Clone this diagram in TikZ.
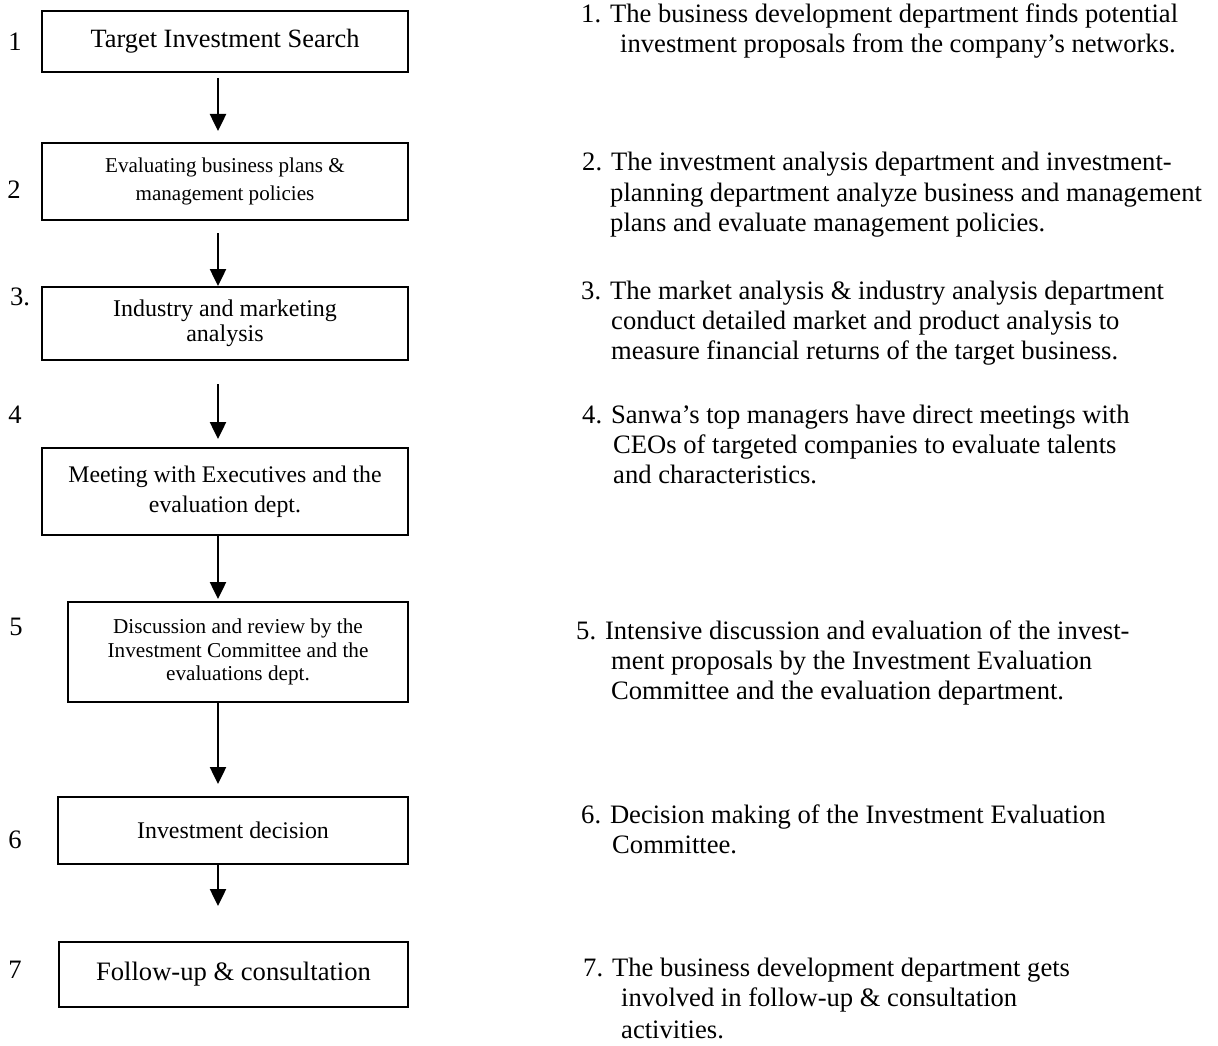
\documentclass[tikz,border=0pt]{standalone}
\usepackage{fontspec}
\setmainfont{Liberation Serif}
\usetikzlibrary{arrows.meta,calc}

\begin{document}
\begin{tikzpicture}[x=1pt,y=1pt,
  stepbox/.style={draw=black, line width=2pt, inner sep=0pt, align=center},
  arr/.style={line width=2.5pt, -{Triangle[width=16pt,length=17pt]}},
  num/.style={inner sep=0pt, font=\fontsize{26.6}{30}\selectfont},
  note/.style={anchor=west, inner sep=0pt, text height=18pt, text depth=6pt,
               font=\fontsize{26.6}{30}\selectfont}
]
\useasboundingbox (0,0) rectangle (1218,-1046);

% ---- process boxes (left column) ----
\node[stepbox, minimum width=366pt, minimum height=61pt,
      font=\fontsize{26.4}{30}\selectfont] (b1) at (225,-41.5) {Target Investment Search};
\node[stepbox, minimum width=366pt, minimum height=77pt,
      font=\fontsize{21.1}{28}\selectfont] (b2) at (225,-181.5)
      {Evaluating business plans \&\\management policies};
\node[stepbox, minimum width=366pt, minimum height=73pt,
      font=\fontsize{24}{25.5}\selectfont] (b3) at (225,-323.5)
      {Industry and marketing\\analysis};
\node[stepbox, minimum width=366pt, minimum height=87pt,
      font=\fontsize{23.8}{30}\selectfont] (b4) at (225,-491.5)
      {Meeting with Executives and the\\evaluation dept.};
\node[stepbox, minimum width=340pt, minimum height=100pt,
      font=\fontsize{21.2}{23.5}\selectfont] (b5) at (238,-652)
      {Discussion and review by the\\Investment Committee and the\\evaluations dept.};
\node[stepbox, minimum width=350pt, minimum height=67pt,
      font=\fontsize{23.9}{28}\selectfont] (b6) at (233,-830.5) {Investment decision};
\node[stepbox, minimum width=349pt, minimum height=65pt,
      font=\fontsize{26.6}{30}\selectfont] (b7) at (233.5,-974.5) {Follow-up \& consultation};

% ---- step numbers ----
\node[num] (n1) at (15,-42) {1};
\node[num] (n2) at (14,-190) {2};
\node[num] (n3) at (20,-297) {3.};
\node[num] (n4) at (15,-415) {4};
\node[num] (n5) at (16,-627) {5};
\node[num] (n6) at (15,-840) {6};
\node[num] (n7) at (15,-970) {7};

% ---- flow arrows (all on one vertical line) ----
\coordinate (ax) at (218,0);
\draw[arr] ($(b1.south -| ax)+(0,-5)$)  -- ($(b2.north -| ax)+(0,11)$);
\draw[arr] ($(b2.south -| ax)+(0,-12)$) -- (b3.north -| ax);
\draw[arr] ($(b3.south -| ax)+(0,-23)$) -- ($(b4.north -| ax)+(0,8)$);
\draw[arr] (b4.south -| ax) -- ($(b5.north -| ax)+(0,2)$);
\draw[arr] (b5.south -| ax) -- ($(b6.north -| ax)+(0,12)$);
\draw[arr] (b6.south -| ax) -- ($(b7.north -| ax)+(0,35)$);

% ---- explanations (right column) ----
\node[note] (t1a) at (581,-17) {1. The business development department finds potential};
\node[note] (t1b) at (620,-47) {investment proposals from the company’s networks.};

\node[note] (t2a) at (582,-165) {2. The investment analysis department and investment-};
\node[note] (t2b) at (610,-195) {planning department analyze business and management};
\node[note] (t2c) at (610,-225) {plans and evaluate management policies.};

\node[note] (t3a) at (581,-293) {3. The market analysis \& industry analysis department};
\node[note] (t3b) at (611,-323) {conduct detailed market and product analysis to};
\node[note] (t3c) at (611,-353) {measure financial returns of the target business.};

\node[note] (t4a) at (582,-417) {4. Sanwa’s top managers have direct meetings with};
\node[note] (t4b) at (613,-447) {CEOs of targeted companies to evaluate talents};
\node[note] (t4c) at (613,-477) {and characteristics.};

\node[note] (t5a) at (576,-633) {5. Intensive discussion and evaluation of the invest-};
\node[note] (t5b) at (611,-663) {ment proposals by the Investment Evaluation};
\node[note] (t5c) at (611,-693) {Committee and the evaluation department.};

\node[note] (t6a) at (581,-817) {6. Decision making of the Investment Evaluation};
\node[note] (t6b) at (612,-847) {Committee.};

\node[note] (t7a) at (583,-970) {7. The business development department gets};
\node[note] (t7b) at (621,-1000) {involved in follow-up \& consultation};
\node[note] (t7c) at (621,-1032) {activities.};
\end{tikzpicture}
\end{document}
